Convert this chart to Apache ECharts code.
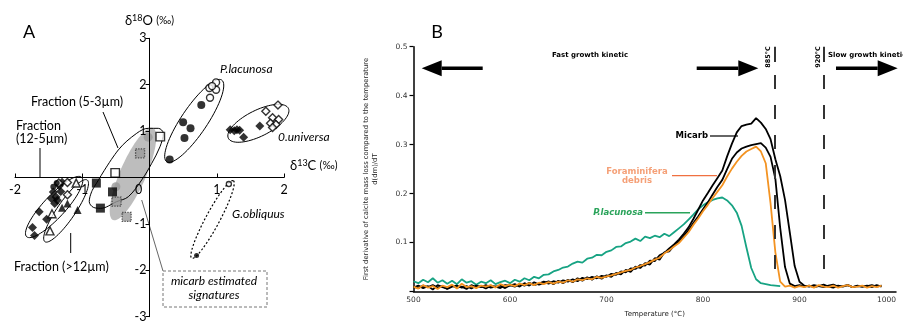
<!DOCTYPE html>
<html><head><meta charset="utf-8">
<script src="https://cdn.jsdelivr.net/npm/echarts@6/dist/echarts.min.js"></script>
<style>html,body{margin:0;padding:0;background:#fff}#c{width:903px;height:324px}</style>
</head><body><div id="c"></div>
<script>
// ---------------- Panel A data (δ13C, δ18O) ----------------
const placunosaFilled = [[0.30,0.39],[0.52,0.85],[0.61,1.06],[0.50,1.19],[0.77,1.56]];
const placunosaOpen = [[0.90,1.72],[0.89,1.93],[0.99,1.89],[0.99,2.05],[0.93,1.97]];
const ouniversaFilled = [[1.20,1.03],[1.26,1.01],[1.30,1.03],[1.34,1.02],[1.64,1.11],[1.40,0.87]];
const ouniversaOpen = [[1.73,1.43],[1.91,1.56],[1.83,1.29],[1.92,1.25],[1.80,1.17],[1.88,1.14],[1.83,1.08]];
const gobliquusOpen = [[1.18,-0.14]];
const gobliquusFilled = [[0.70,-1.68]];
const coarseDiamonds = [[-1.64,-0.74],[-1.53,-0.90],[-1.74,-1.08],[-1.71,-1.25],[-1.43,-0.31],[-1.39,-0.42],[-1.41,-0.56],[-1.34,-0.18],[-1.37,-0.49],[-1.46,-0.45],[-1.30,-0.10],[-1.32,-0.30]];
const coarseOpenTri = [[-1.48,-1.15],[-1.45,-0.78],[-1.09,-0.12]];
const coarseFilledTri = [[-1.07,-0.70],[-1.22,-0.56],[-1.30,-0.65]];
const coarseOpenDiamonds = [[-1.22,-0.37],[-1.22,-0.11],[-1.35,-0.12]];
const coarseDots = [[-1.38,-0.12],[-1.43,-0.20]];
const blackSquares = [[-0.79,-0.12],[-0.73,-0.66],[-0.55,-0.31]];
const openSquares = [[-0.51,0.10],[0.16,0.88]];
const greySquares = [[-0.14,0.52],[-0.49,-0.52],[-0.34,-0.85]];
const greyCircles = [[-0.02,0.87],[-0.50,-0.20]];
// ellipse outlines: major-axis end points (data units)
const ellipseEnds = [
  [[0.256,0.34],[1.074,2.10]],      // P.lacunosa
  [[1.173,0.845],[2.065,1.491]],    // O.universa
  [[-1.827,-1.276],[-1.009,0.004]], // Fraction 12-5
  [[-1.555,-1.384],[-0.926,-0.054]] // Fraction >12
];
const obliquusEnds = [[[0.628,-1.741],[1.247,-0.069]]];
const micarbEnds = [[[-0.543,-0.916],[0.052,1.067]]];
// outline around the 5-3 µm fraction
const fineOutline = [[-0.786,-0.119],[-0.464,0.593],[-0.190,0.953],[-0.018,1.060],[0.131,1.060],[0.205,0.953],[0.156,0.664],[0.033,0.306],[-0.116,-0.054],[-0.315,-0.414],[-0.488,-0.52],[-0.726,-0.664],[-0.836,-0.642],[-0.896,-0.52],[-0.860,-0.306],[-0.786,-0.119]];

// ---------------- Panel B data ----------------
const temps = [500,505,510,515,520,525,530,535,540,545,550,555,560,565,570,575,580,585,590,595,
600,605,610,615,620,625,630,635,640,645,650,655,660,665,670,675,680,685,690,695,
700,705,710,715,720,725,730,735,740,745,750,755,760,765,770,775,780,785,790,795,
800,805,810,815,820,825,830,835,840,845,850,855,860,865,870,875,880,885,890,895,
900,905,910,915,920,925,930,935,940,945,950,955,960,965,970,975,980,985];
const plac = [0.021,0.017,0.024,0.019,0.027,0.018,0.023,0.016,0.022,0.015,0.025,0.018,0.021,0.014,0.020,0.017,0.023,0.015,0.019,0.022,
0.017,0.024,0.020,0.027,0.023,0.030,0.027,0.034,0.035,0.041,
0.044,0.049,0.051,0.057,0.061,0.059,0.067,0.069,0.075,0.074,
0.081,0.084,0.091,0.092,0.099,0.102,0.108,0.103,0.112,0.109,
0.114,0.111,0.118,0.113,0.121,0.129,0.137,0.147,0.157,0.168,
0.176,0.182,0.187,0.190,0.192,0.186,0.176,0.161,0.134,0.090,
0.048,0.025,0.017,0.015,0.013,0.012,0.011];
const foram = [0.010,0.006,0.013,0.008,0.011,0.005,0.012,0.009,0.014,0.006,0.016,0.009,0.011,0.007,0.012,0.010,0.013,0.008,0.015,0.011,
0.014,0.011,0.016,0.013,0.017,0.013,0.018,0.015,0.019,0.016,0.020,0.018,0.023,0.020,0.025,0.023,0.027,0.025,0.030,0.028,
0.031,0.033,0.036,0.039,0.042,0.044,0.049,0.052,0.056,0.060,0.065,0.069,0.078,0.084,0.092,0.099,0.110,0.121,0.136,0.149,
0.164,0.177,0.191,0.204,0.217,0.235,0.251,0.265,0.277,0.286,0.291,0.296,0.286,0.262,0.180,0.080,0.020,0.010,0.012,0.008,
0.011,0.009,0.012,0.008,0.013,0.010,0.009,0.012,0.008,0.011,0.013,0.009,0.010,0.012,0.008,0.011,0.009,0.012];
const micarb2 = [0.008,0.012,0.007,0.011,0.004,0.013,0.009,0.006,0.012,0.008,0.010,0.005,0.013,0.009,0.011,0.006,0.012,0.010,0.007,0.013,
0.012,0.015,0.010,0.017,0.012,0.019,0.014,0.017,0.021,0.015,0.022,0.017,0.024,0.019,0.027,0.022,0.029,0.024,0.031,0.026,
0.033,0.030,0.038,0.035,0.044,0.040,0.051,0.048,0.058,0.055,0.068,0.065,0.080,0.082,0.094,0.101,0.113,0.125,0.140,0.153,
0.168,0.182,0.198,0.214,0.228,0.250,0.271,0.284,0.292,0.296,0.299,0.301,0.303,0.294,0.275,0.230,0.130,0.050,0.016,0.011,
0.013,0.010,0.012,0.009,0.011,0.014,0.010,0.008,0.012,0.010,0.013,0.009,0.011,0.010,0.012,0.009,0.013,0.010];
const micarb1 = [0.010,0.007,0.012,0.009,0.013,0.008,0.011,0.005,0.010,0.012,0.008,0.011,0.006,0.012,0.009,0.013,0.008,0.010,0.012,0.007,
0.013,0.010,0.015,0.012,0.018,0.013,0.016,0.020,0.016,0.021,0.018,0.023,0.020,0.025,0.021,0.028,0.025,0.030,0.027,0.032,
0.030,0.036,0.034,0.041,0.039,0.047,0.046,0.054,0.053,0.063,0.062,0.074,0.079,0.088,0.096,0.106,0.118,0.131,0.148,0.167,
0.186,0.201,0.217,0.232,0.247,0.276,0.302,0.325,0.338,0.341,0.343,0.354,0.345,0.332,0.311,0.270,0.236,0.187,0.120,0.052,
0.020,0.012,0.010,0.013,0.011,0.009,0.012,0.014,0.010,0.011,0.013,0.009,0.012,0.010,0.011,0.013,0.010,0.012];
const markTemps = [874, 925];
const markNames = ['885°C', '920°C'];

// ---------------- build ----------------
const chart = echarts.init(document.getElementById('c'));
const FA = 'Lato, "Open Sans", sans-serif';
const FB = '"DejaVu Sans", Verdana, sans-serif';
const pairs = (arr) => arr.map((v, i) => [temps[i], v]);

const W = 903, H = 324;
const gA = {left: 15, right: 619, top: 38.3, bottom: 7.3};
const gB = {left: 413.5, right: 7, top: 46.7, bottom: 32.5};
// place the crossing axes of panel A at zero
const aH = H - gA.top - gA.bottom, aW = W - gA.left - gA.right;
const xOffA = -(aH * 3 / 6);   // zero is in the middle of -3..3
const yOffA = -(aW * 2 / 4);   // zero is in the middle of -2..2

function ellipseSeries(list, minors, style, z) {
  return {
    type: 'custom', xAxisIndex: 0, yAxisIndex: 0, z: z, silent: true, clip: false,
    data: list.map(e => [e[0][0], e[0][1], e[1][0], e[1][1]]),
    encode: {x: [0, 2], y: [1, 3]},
    renderItem: function (params, api) {
      const p1 = api.coord([api.value(0), api.value(1)]);
      const p2 = api.coord([api.value(2), api.value(3)]);
      const cx = (p1[0] + p2[0]) / 2, cy = (p1[1] + p2[1]) / 2;
      const dx = p2[0] - p1[0], dy = p2[1] - p1[1];
      const a = Math.sqrt(dx * dx + dy * dy) / 2;
      const ux = dx / (2 * a), uy = dy / (2 * a);
      const b = minors[params.dataIndex];
      const pts = [];
      for (let k = 0; k < 72; k++) {
        const t = k / 72 * Math.PI * 2;
        const ca = Math.cos(t) * a, sb = Math.sin(t) * b;
        pts.push([cx + ca * ux - sb * uy, cy + ca * uy + sb * ux]);
      }
      return {type: 'polygon', shape: {points: pts}, style: style};
    }
  };
}
function scat(data, symbol, size, style, z) {
  return {type: 'scatter', xAxisIndex: 0, yAxisIndex: 0, data: data, symbol: symbol,
    symbolSize: size, itemStyle: style, z: z || 5, silent: true};
}
const filled = {color: '#000'};
const open = {color: '#fff', borderColor: '#000', borderWidth: 1.4};

function T(text, x, y, font, extra) {
  return Object.assign({type: 'text', x: x, y: y, silent: true,
    style: Object.assign({text: text, font: font, fill: '#000', align: 'left', verticalAlign: 'middle',
      textAlign: 'left', textVerticalAlign: 'middle'}, (extra && extra.style) || {})},
    extra && extra.rotation !== undefined ? {rotation: extra.rotation} : {});
}
function C(text, x, y, font, fill) {
  return T(text, x, y, font, {style: {align: 'center', textAlign: 'center', fill: fill || '#000'}});
}
function L(x1, y1, x2, y2, stroke, w, dash) {
  return {type: 'line', silent: true, shape: {x1, y1, x2, y2}, style: {stroke: stroke, lineWidth: w, lineDash: dash || null}};
}
function arrow(x1, x2, y, dir) {
  const tip = dir > 0 ? x2 : x1;
  const base = tip - dir * 20;
  return [
    L(dir > 0 ? x1 : base, y, dir > 0 ? base : x2, y, '#000', 3.5),
    {type: 'polygon', silent: true, shape: {points: [[tip, y], [base, y - 8], [base, y + 8]]}, style: {fill: '#000'}}
  ];
}

const markData = [];
markTemps.forEach(t => {
  markData.push([{coord: [t, 0.5], lineStyle: {type: 'solid', width: 2, color: '#333'}}, {coord: [t, 0.469]}]);
  markData.push([{coord: [t, 0.442], lineStyle: {type: [14, 16], width: 2, color: '#333'}}, {coord: [t, 0.045]}]);
});

const richName = {d: {fontSize: 13, fontFamily: FA, color: '#000'},
  s: {fontSize: 9, fontFamily: FA, verticalAlign: 'top', padding: [0, 0, 6, 0], color: '#000'},
  n: {fontSize: 13, fontFamily: FA, color: '#000'}, p: {fontSize: 10.5, fontFamily: FA, color: '#000'}};

const option = {
  animation: false,
  backgroundColor: '#fff',
  grid: [
    Object.assign({outerBoundsMode: 'none', containLabel: false}, gA),
    Object.assign({outerBoundsMode: 'none', containLabel: false}, gB)
  ],
  xAxis: [
    {type: 'value', gridIndex: 0, min: -2, max: 2, interval: 1, position: 'bottom', offset: xOffA, z: 10,
      axisLine: {onZero: false, lineStyle: {color: '#000', width: 1}},
      axisTick: {inside: true, length: 4, lineStyle: {color: '#000'}},
      splitLine: {show: false},
      axisLabel: {margin: 6, color: '#000', fontSize: 12.5, fontFamily: FA, hideOverlap: false, interval: 0,
        showMinLabel: true, showMaxLabel: true,
        formatter: v => v === 0 ? '{z|0}' : String(v),
        rich: {z: {padding: [0, 22, 0, 0], fontSize: 12.5, fontFamily: FA, color: '#000'}}},
      name: '{d|δ}{s|13}{n|C }{p|(‰)}', nameLocation: 'end', nameGap: 6,
      nameTextStyle: {verticalAlign: 'bottom', padding: [0, 0, 4, 0], rich: richName}},
    {type: 'value', gridIndex: 1, min: 500, max: 1000, interval: 100,
      axisLine: {onZero: false, lineStyle: {color: '#000', width: 1.5}},
      axisTick: {show: false}, splitLine: {show: false},
      axisLabel: {margin: 5, color: '#333', fontSize: 7.5, fontFamily: FB, alignMaxLabel: 'right', formatter: v => String(v)},
      name: 'Temperature (°C)', nameLocation: 'middle', nameGap: 19,
      nameTextStyle: {fontSize: 7, fontFamily: FB, color: '#222'}}
  ],
  yAxis: [
    {type: 'value', gridIndex: 0, min: -3, max: 3, interval: 1, position: 'left', offset: yOffA, z: 10,
      axisLine: {onZero: false, lineStyle: {color: '#000', width: 1}},
      axisTick: {length: 4, lineStyle: {color: '#000'}},
      splitLine: {show: false},
      axisLabel: {margin: 3, color: '#000', fontSize: 12.5, fontFamily: FA, formatter: v => v === 0 ? '' : String(v)},
      name: '{d|δ}{s|18}{n|O }{p|(‰)}', nameLocation: 'end', nameGap: 10,
      nameTextStyle: {align: 'center', rich: richName}},
    {type: 'value', gridIndex: 1, min: 0, max: 0.5, interval: 0.1,
      axisLine: {onZero: false, lineStyle: {color: '#000', width: 1.5}},
      axisTick: {length: 4, lineStyle: {color: '#000', width: 1.2}},
      splitLine: {show: false},
      axisLabel: {margin: 6, color: '#333', fontSize: 7.5, fontFamily: FB, formatter: v => v === 0 ? '' : v.toFixed(1)},
      name: 'First derivative of calcite mass loss compared to the temperature\nd(dm)/dT',
      nameLocation: 'middle', nameGap: 34, nameRotate: 90,
      nameTextStyle: {fontSize: 6.8, fontFamily: FB, color: '#222', lineHeight: 9}}
  ],
  series: [
    ellipseSeries(micarbEnds, [13], {fill: '#bdbdbd', stroke: null}, -1),
    ellipseSeries(ellipseEnds, [13, 13, 11, 9], {fill: 'none', stroke: '#000', lineWidth: 1}, 3),
    ellipseSeries(obliquusEnds, [7], {fill: 'none', stroke: '#000', lineWidth: 1.2, lineDash: [2, 2]}, 3),
    {type: 'line', xAxisIndex: 0, yAxisIndex: 0, data: fineOutline, smooth: 0.35, symbol: 'none',
      lineStyle: {color: '#000', width: 1}, z: 3, silent: true},
    scat(greyCircles, 'circle', 9, {color: '#999'}, 4),
    scat(greySquares, 'rect', 9, {color: '#9a9a9a', borderColor: '#333', borderWidth: 1.3, borderType: 'dotted'}),
    scat(blackSquares, 'rect', 9, filled),
    scat(openSquares, 'rect', 8.5, open),
    scat(placunosaFilled, 'circle', 8, filled),
    scat(placunosaOpen, 'circle', 7, open),
    scat(ouniversaFilled, 'diamond', 9, filled),
    scat(ouniversaOpen, 'diamond', 8, open),
    scat(gobliquusOpen, 'circle', 5, open),
    scat(gobliquusFilled, 'circle', 5, filled),
    scat(coarseDiamonds, 'diamond', 9, filled),
    scat(coarseOpenTri, 'triangle', 8, open),
    scat(coarseFilledTri, 'triangle', 8, filled),
    scat(coarseOpenDiamonds, 'diamond', 8, open),
    scat(coarseDots, 'circle', 6, filled),
    {name: 'P.lacunosa', type: 'line', xAxisIndex: 1, yAxisIndex: 1, data: pairs(plac), symbol: 'none',
      lineStyle: {color: '#17a383', width: 1.8}, z: 2, silent: true},
    {name: 'Micarb', type: 'line', xAxisIndex: 1, yAxisIndex: 1, data: pairs(micarb1), symbol: 'none',
      lineStyle: {color: '#000', width: 1.8}, z: 3, silent: true,
      markLine: {silent: true, symbol: 'none', label: {show: false}, data: markData}},
    {name: 'Micarb 2', type: 'line', xAxisIndex: 1, yAxisIndex: 1, data: pairs(micarb2), symbol: 'none',
      lineStyle: {color: '#000', width: 1.8}, z: 3, silent: true},
    {name: 'Foraminifera debris', type: 'line', xAxisIndex: 1, yAxisIndex: 1, data: pairs(foram), symbol: 'none',
      lineStyle: {color: '#f39322', width: 1.8}, z: 4, silent: true}
  ],
  graphic: [
    C('A', 29, 32, '18px ' + FA),
    C('Fraction (5-3µm)', 77, 102, '12.5px ' + FA),
    T('Fraction', 16, 126, '12.5px ' + FA),
    T('(12-5µm)', 16, 139, '12.5px ' + FA),
    T('Fraction (>12µm)', 14, 267, '12.5px ' + FA),
    T('P.lacunosa', 220, 69, 'italic 12px ' + FA),
    T('0.universa', 278, 137, 'italic 12px ' + FA),
    T('G.obliquus', 232, 214, 'italic 12px ' + FA),
    C('micarb estimated', 214, 281, 'italic 12px ' + FA),
    C('signatures', 214, 295, 'italic 12px ' + FA),
    L(103, 112, 118, 148, '#000', 1),
    L(40, 148, 40, 177, '#000', 1),
    L(70.7, 233, 70.7, 253, '#000', 1),
    L(141.7, 200, 163, 271, '#666', 1),
    {type: 'rect', silent: true, shape: {x: 163, y: 271, width: 104, height: 36}, style: {fill: 'none', stroke: '#777', lineWidth: 1, lineDash: [3, 2]}},
    C('B', 437, 32, '18px ' + FA),
    C('Fast growth kinetic', 590, 55, 'bold 7px ' + FB),
    T('Slow growth kinetic', 828, 55, 'bold 7px ' + FB),
    T(markNames[0], 768, 57, 'bold 6.5px ' + FB, {rotation: Math.PI / 2, style: {align: 'center', textAlign: 'center'}}),
    T(markNames[1], 818, 57, 'bold 6.5px ' + FB, {rotation: Math.PI / 2, style: {align: 'center', textAlign: 'center'}}),
    ...arrow(421.7, 482.7, 68.3, -1),
    ...arrow(696.7, 758.3, 68.3, 1),
    ...arrow(836, 897.7, 68.3, 1),
    T('Micarb', 708, 136, 'bold 8.5px ' + FB, {style: {align: 'right', textAlign: 'right'}}),
    L(710, 136, 738, 136, '#000', 1.2),
    C('Foraminifera', 637, 172, 'bold 8.5px ' + FB, '#f5a077'),
    C('debris', 637, 181, 'bold 8.5px ' + FB, '#f5a077'),
    L(672, 175.7, 717, 175.7, '#f07040', 1.2),
    T('P.lacunosa', 643, 212.7, 'italic bold 8.5px ' + FB, {style: {align: 'right', textAlign: 'right', fill: '#2aa35a'}}),
    L(645, 212.7, 690, 212.7, '#2aa35a', 1.5)
  ]
};
chart.setOption(option);
</script></body></html>
